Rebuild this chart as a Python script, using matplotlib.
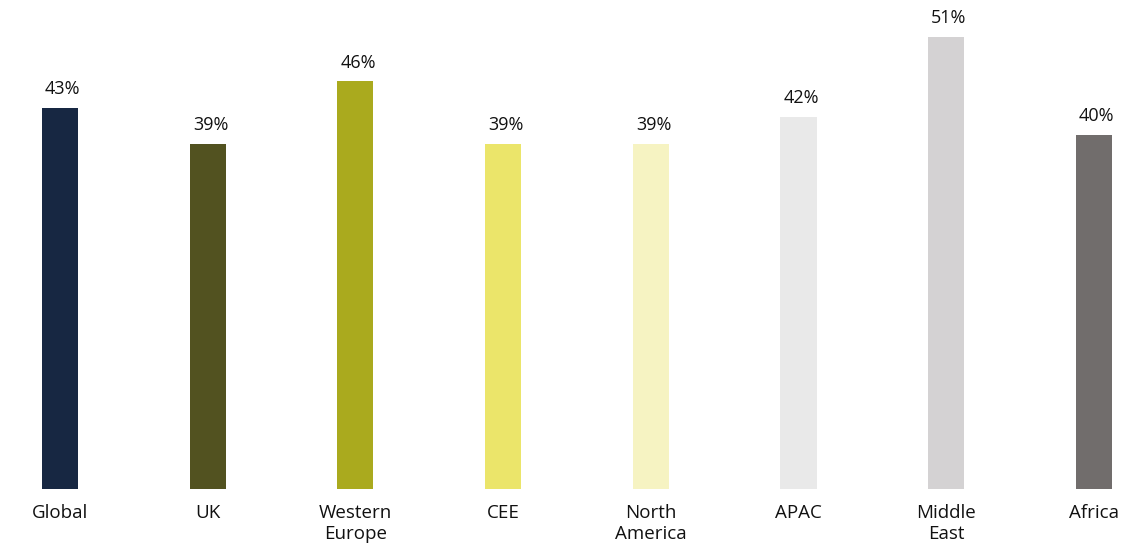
import matplotlib
matplotlib.use("Agg")
import matplotlib.pyplot as plt

categories = ["Global", "UK", "Western\nEurope", "CEE", "North\nAmerica", "APAC", "Middle\nEast", "Africa"]
values = [43, 39, 46, 39, 39, 42, 51, 40]
colors = ["#172742", "#525220", "#aaaa1e", "#ebe56a", "#f6f3c2", "#e9e9e9", "#d4d2d3", "#716d6c"]

plt.rcParams['font.family'] = ['Open Sans', 'DejaVu Sans']

fig = plt.figure(figsize=(11.45, 5.45), dpi=100)
ax = fig.add_axes([0, 56/545, 1, 489/545])
x = list(range(len(categories)))
bars = ax.bar(x, values, width=0.244, color=colors)
for xi, v in zip(x, values):
    ax.annotate(f"{v}%", (xi, v), xytext=(2, 7), textcoords="offset points",
                ha="center", va="bottom", fontsize=13, color="#111111")
ax.set_xlim(-0.406, 7.346)
ax.set_ylim(0, 55.2)
ax.set_xticks(x)
ax.set_xticklabels(categories, fontsize=13.5, color="#111111", linespacing=1.2)
ax.tick_params(axis='x', length=0, pad=11)
ax.set_yticks([])
for s in ax.spines.values():
    s.set_visible(False)
fig.savefig("out.png", dpi=100)
